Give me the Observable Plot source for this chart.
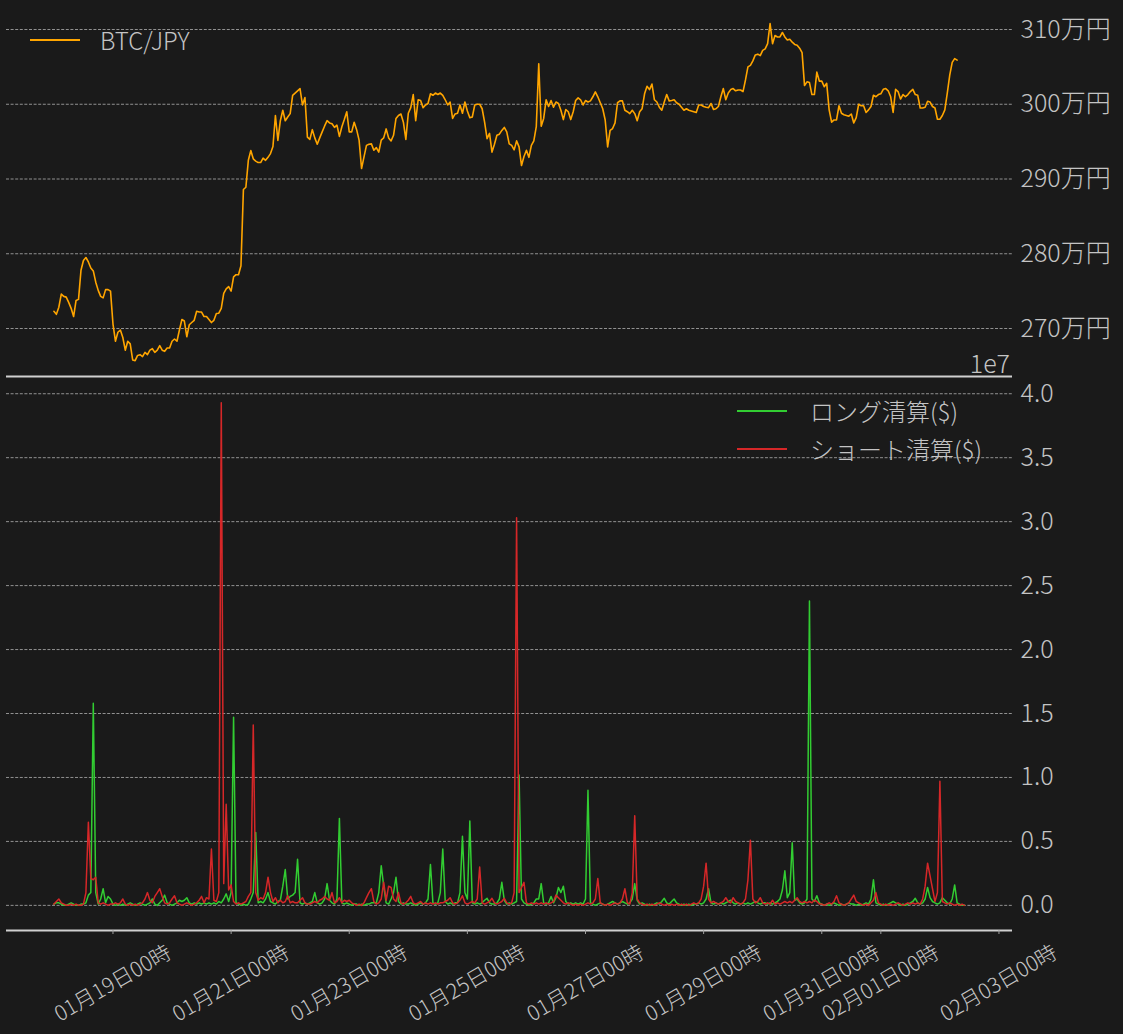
<!DOCTYPE html>
<html>
<head>
<meta charset="utf-8">
<script src="https://cdn.jsdelivr.net/npm/d3@7"></script>
<script src="https://cdn.jsdelivr.net/npm/@observablehq/plot@0.6"></script>
<style>
  html, body { margin: 0; padding: 0; background: #1a1a1a; }
  #wrap { position: relative; width: 1123px; height: 1034px; background: #1a1a1a; overflow: hidden;
          font-family: "Noto Sans CJK JP", "Noto Sans", sans-serif; font-weight: 300; color: #c4c4c4; }
  #top, #bottom { position: absolute; left: 0; }
  #top { top: 0; }
  #bottom { top: 377px; }
  svg text { font-weight: 300; }
  .sw { position: absolute; height: 2px; width: 50px; }
  .lt { position: absolute; font-size: 24px; line-height: 1; transform: translateY(-50%); white-space: nowrap; }
</style>
</head>
<body>
<div id="wrap">
  <div id="top"></div>
  <div id="bottom"></div>
  <div class="sw" style="left:30px; top:39px; background:#ffa500"></div>
  <div class="lt" style="left:100px; top:40px">BTC/JPY</div>
  <div class="sw" style="left:737px; top:410px; background:#32cd32"></div>
  <div class="lt" style="left:810px; top:411px">ロング清算($)</div>
  <div class="sw" style="left:737px; top:448px; background:#d62728"></div>
  <div class="lt" style="left:810px; top:449px">ショート清算($)</div>
  <div class="lt" style="right:113px; top:362px; font-size:25px">1e7</div>
</div>
<script>
// ---- data (hourly, starting 2023-01-18 00:00) ----
const startTime = Date.UTC(2023, 0, 18, 0);
const HOUR = 3600e3;

// BTC/JPY price, in 万円
const btcPrice = [
  272.3,271.9,272.85,274.6,274.3,274.2,273.5,272.7,271.6,273.75,
  273.9,277.8,279.1,279.5,278.9,278.1,277.7,276.2,275.1,274.3,
  274.1,275.2,275.2,275.0,270.6,268.3,269.5,269.8,268.8,267.1,
  268.3,267.95,265.8,265.7,266.4,266.5,266.25,266.8,266.5,267.1,
  267.3,266.8,267.1,267.7,267.1,266.95,267.4,267.4,268.3,268.6,
  268.3,269.8,271.2,271.0,268.9,270.5,270.8,271.1,272.3,272.2,
  272.2,271.6,271.6,271.2,270.8,271.1,272.0,272.05,272.7,274.7,
  275.3,275.6,275.0,276.9,277.2,277.2,278.4,288.6,288.9,292.5,
  293.8,292.7,292.4,292.2,292.2,292.8,292.5,292.9,293.4,294.35,
  298.5,295.15,297.8,
  299.2,297.8,298.3,298.75,301.2,301.5,301.8,302.1,299.9,300.9,
  295.6,295.3,296.6,295.5,294.65,295.5,296.3,297.1,297.8,297.5,
  297.4,296.9,297.2,295.7,297.0,297.95,299.0,296.3,296.3,297.6,
  296.6,295.2,291.4,292.95,294.5,294.65,294.7,293.85,294.2,293.6,
  295.2,295.5,296.7,295.5,295.1,295.85,298.1,298.5,298.7,297.6,
  295.3,298.8,299.55,301.3,297.8,300.6,300.5,299.55,299.9,300.1,
  301.4,301.2,301.5,301.3,301.5,301.2,300.6,299.9,300.3,298.1,
  298.7,298.8,299.9,298.8,300.3,299.1,298.2,298.3,299.9,300.0,
  300.0,299.4,297.6,295.4,296.1,293.6,294.65,295.85,296.0,296.5,
  296.9,296.3,294.7,
  294.5,293.9,295.1,294.3,291.8,293.0,293.85,292.9,294.5,295.1,
  297.0,305.4,297.05,298.1,300.6,299.7,300.5,299.6,300.3,300.1,
  299.2,297.95,299.3,299.0,297.95,299.0,300.5,300.85,300.6,299.9,
  300.5,300.3,300.45,301.0,301.65,301.0,300.2,299.4,297.9,294.3,
  296.5,296.75,297.5,300.2,300.45,300.45,299.2,299.0,298.75,299.2,
  298.75,297.8,299.0,299.4,301.4,302.4,301.96,302.7,300.6,300.3,
  299.6,299.2,300.3,301.3,300.45,300.5,300.6,300.2,300.0,299.6,
  299.2,299.4,299.2,299.1,299.0,298.9,299.9,299.9,299.7,299.6,
  299.55,300.1,299.3,299.4,299.7,301.0,302.1,300.6,301.5,301.96,
  302.1,301.8,
  301.9,301.9,301.7,303.25,305.0,305.2,305.8,306.6,306.7,306.5,
  307.2,307.4,308.1,310.8,308.1,309.2,309.0,309.0,309.6,309.0,
  308.6,308.7,308.3,308.0,307.9,307.5,306.9,302.5,303.0,302.9,
  301.3,301.3,304.3,303.1,303.1,302.35,302.8,299.25,297.6,297.9,
  297.9,299.8,298.8,298.6,298.5,298.4,298.7,297.5,298.2,300.0,
  299.8,299.8,298.9,299.25,299.7,301.2,301.0,301.3,301.4,302.0,
  302.1,301.8,301.0,298.9,302.0,301.7,300.7,301.3,301.0,301.3,
  301.7,302.0,301.3,301.2,299.5,299.5,299.6,300.4,300.3,299.7,
  299.5,298.0,298.0,298.5,299.25,301.5,303.9,305.6,306.1,305.9
];

// Long liquidations, in units of 1e7 $
const longLiq1e7 = [
  0.01,0.02,0.02,0.01,0,0,0.01,0.02,0.01,0,0,0.01,0.01,0.02,0.08,0.1,1.58,0.1,0.01,0.05,0.13,0.02,0.07,0.05,
  0.01,0,0.01,0,0.01,0,0.01,0.02,0.01,0,0.01,0.02,0.01,0,0.01,0.02,0.05,0.01,0,0.02,0.04,0.08,0.02,0.01,
  0,0.01,0.02,0.04,0.03,0.04,0.06,0.02,0.01,0.02,0.01,0.02,0.01,0.02,0.01,0.02,0.01,0.02,0.01,0.03,0.02,0.05,0.09,0.03,
  0.1,1.47,0.02,0.01,0,0.01,0,0.01,0.05,0.1,0.57,0.02,0.03,0.02,0.05,0.1,0.03,0.02,0.01,0.03,0.04,0.15,0.28,0.05,
  0.07,0.08,0.1,0.36,0.02,0.01,0.02,0.01,0.02,0.03,0.1,0.02,0.01,0.02,0.05,0.17,0.04,0.02,0.01,0.05,0.68,0.02,0.01,0.02,
  0.01,0,0.01,0.01,0,0.01,0,0.01,0.01,0.02,0.02,0.02,0.1,0.31,0.15,0.02,0.01,0.05,0.1,0.22,0.03,0.01,0.02,0.01,
  0.01,0.02,0.01,0,0.01,0.02,0.01,0.02,0.05,0.32,0.02,0.01,0.02,0.1,0.44,0.03,0.01,0.02,0.01,0.02,0.02,0.1,0.54,0.1,
  0.05,0.66,0.02,0.01,0.02,0.01,0.02,0.04,0.055,0.02,0.01,0.01,0.02,0.05,0.18,0.04,0.01,0.02,0.01,0.02,0.03,1.02,0.05,0.02,
  0.01,0,0.01,0.02,0.05,0.05,0.17,0.02,0.01,0.02,0.07,0.02,0.06,0.14,0.1,0.15,0.03,0.01,0.02,0.01,0.02,0.01,0.02,0.01,
  0.05,0.9,0.02,0.01,0,0.01,0.02,0.01,0,0.01,0.02,0.03,0.02,0.01,0.02,0.03,0.02,0.01,0.02,0.05,0.17,0.04,0.01,0.02,
  0.01,0,0.01,0,0.01,0.02,0.01,0.03,0.055,0.02,0.01,0.03,0.05,0.02,0.01,0,0.01,0,0.01,0,0.01,0.01,0.02,0.01,
  0.02,0.05,0.13,0.02,0.01,0.02,0.01,0.02,0.01,0.02,0.03,0.04,0.02,0.01,0.02,0.01,0.02,0.01,0.02,0.01,0.02,0.03,0.02,0.01,
  0.02,0.02,0.01,0.02,0.01,0.02,0.03,0.05,0.12,0.27,0.06,0.1,0.49,0.04,0.05,0.02,0.01,0.02,0.05,2.38,0.05,0.03,0.075,0.02,
  0.01,0,0.01,0,0.01,0.02,0.01,0,0.01,0,0.01,0.02,0.01,0.01,0,0.01,0,0.01,0.02,0.01,0.05,0.2,0.02,0.01,
  0,0.01,0,0.01,0.02,0.03,0.02,0.01,0,0.01,0,0.01,0.02,0.03,0.055,0.02,0.01,0.02,0.05,0.14,0.06,0.03,0.02,0.01,
  0.02,0.06,0.04,0.02,0.01,0.05,0.16,0.02,0.01,0,0
];

// Short liquidations, in units of 1e7 $
const shortLiq1e7 = [
  0.01,0.03,0.05,0.02,0.01,0,0,0.01,0,0.01,0,0,0.01,0.1,0.65,0.21,0.2,0.22,0.02,0.01,0.02,0.01,0,0.01,
  0.01,0.02,0.01,0.02,0.05,0.01,0,0.01,0,0.01,0,0.01,0.02,0.05,0.1,0.04,0.02,0.07,0.1,0.13,0.07,0.02,0.01,0.02,
  0.05,0.075,0.02,0.01,0,0.01,0.02,0.01,0,0.01,0.02,0.04,0.07,0.02,0.06,0.05,0.44,0.04,0.03,0.1,3.93,0.17,0.79,0.12,
  0.16,0.03,0.01,0.02,0.01,0.02,0.03,0.07,0.1,1.41,0.1,0.04,0.06,0.05,0.1,0.22,0.1,0.03,0.06,0.02,0.04,0.02,0.03,0.075,
  0.02,0.03,0.02,0.02,0.04,0.06,0.02,0.01,0.01,0.02,0.03,0.02,0.04,0.05,0.07,0.05,0.04,0.1,0.02,0.03,0.06,0.02,0.04,0.03,
  0.04,0.02,0.01,0,0.01,0,0.02,0.06,0.1,0.13,0.03,0.01,0.02,0.05,0.18,0.04,0.15,0.14,0.05,0.03,0.1,0.02,0.01,0.02,
  0.04,0.07,0.02,0.01,0.02,0.03,0.01,0.02,0.01,0.02,0.01,0.02,0.01,0.02,0.02,0.03,0.04,0.06,0.02,0.01,0.02,0.04,0.075,0.02,
  0.01,0.02,0.03,0.02,0.05,0.3,0.02,0.01,0.02,0.03,0.055,0.02,0.01,0.02,0.03,0.055,0.02,0.01,0.02,0.1,3.03,0.1,0.14,0.18,
  0.02,0.01,0.02,0.01,0.02,0.01,0.02,0.01,0.02,0.01,0.02,0.03,0.08,0.06,0.04,0.02,0.01,0.02,0.01,0,0.01,0,0.01,0,
  0.01,0.02,0.01,0.02,0.05,0.21,0.02,0.01,0,0.01,0,0.01,0.02,0.01,0.02,0.05,0.13,0.02,0.01,0.1,0.7,0.05,0.02,0.01,
  0,0.01,0,0.01,0,0.01,0.02,0.01,0,0.01,0,0.01,0,0.01,0,0.01,0,0.01,0,0.01,0.02,0.01,0.02,0.05,
  0.15,0.33,0.05,0.02,0.03,0.02,0.01,0.02,0.03,0.06,0.03,0.02,0.06,0.03,0.02,0.01,0.02,0.05,0.2,0.51,0.05,0.02,0.03,0.06,
  0.02,0.01,0.02,0.01,0.04,0.01,0.02,0.01,0.02,0.03,0.02,0.03,0.02,0.04,0.06,0.03,0.02,0.03,0.02,0.03,0.02,0.04,0.03,0.01,
  0.01,0,0.01,0.02,0.01,0.03,0.075,0.02,0.01,0,0.01,0.02,0.05,0.08,0.03,0.02,0.01,0,0.01,0,0.02,0.04,0.1,0.02,
  0.01,0,0.01,0,0.01,0,0.01,0.02,0.01,0,0.01,0.02,0.01,0.02,0.01,0.02,0.01,0.05,0.15,0.33,0.23,0.13,0.03,0.1,
  0.97,0.03,0.02,0.01,0.02,0.01,0,0.01,0,0.01,0
];

const priceTicks = [270, 280, 290, 300, 310];
const liqTicks = [0, 0.5, 1, 1.5, 2, 2.5, 3, 3.5, 4];
const xTickDates = ["2023-01-19","2023-01-21","2023-01-23","2023-01-25","2023-01-27",
                    "2023-01-29","2023-01-31","2023-02-01","2023-02-03"].map(s => new Date(s + "T00:00:00Z"));

// ---- build tables ----
const priceData = btcPrice.map((p, i) => ({t: new Date(startTime + i * HOUR), p}));
const shortData = shortLiq1e7.map((v, i) => ({t: new Date(startTime + i * HOUR), v}));
const longData = longLiq1e7.map((v, i) => ({t: new Date(startTime + i * HOUR), v}));

// ---- shared layout ----
const xDomain = [new Date("2023-01-17T04:44:00Z"), new Date("2023-02-03T05:30:00Z")];
const W = 1123, ML = 6, MR = 111;
const textColor = "#c4c4c4";
const gridColor = "#b0b0b0";
const spineColor = "#d0d0d0";
const fontFamily = "'Noto Sans CJK JP', 'Noto Sans', sans-serif";
const svgStyle = {background: "transparent", color: textColor, fontFamily, overflow: "visible"};

const priceDomain = [263.58, 312.81];
const topPlot = Plot.plot({
  width: W, height: 377,
  marginLeft: ML, marginRight: MR, marginTop: 8, marginBottom: 1,
  style: svgStyle,
  x: {type: "utc", domain: xDomain, axis: null},
  y: {domain: priceDomain, axis: null},
  marks: [
    Plot.gridY(priceTicks, {stroke: gridColor, strokeOpacity: 1, strokeWidth: 0.8, strokeDasharray: "3,1.6"}),
    Plot.axisY(priceTicks, {anchor: "right", tickSize: 0, tickPadding: 8, fontSize: 25,
      tickFormat: d => d + "万円", label: null, fill: textColor}),
    Plot.line(priceData, {x: "t", y: "p", stroke: "#ffa500", strokeWidth: 1.6}),
    Plot.ruleY([priceDomain[0]], {stroke: spineColor, strokeWidth: 2})
  ]
});
document.getElementById("top").appendChild(topPlot);

const liqDomain = [-0.1965, 4.127];
const fmtX = d3.utcFormat("%m月%d日%H時");
const bottomPlot = Plot.plot({
  width: W, height: 657,
  marginLeft: ML, marginRight: MR, marginTop: 0, marginBottom: 104,
  style: svgStyle,
  x: {type: "utc", domain: xDomain, axis: null},
  y: {domain: liqDomain, axis: null},
  marks: [
    Plot.gridY(liqTicks, {stroke: gridColor, strokeOpacity: 1, strokeWidth: 0.8, strokeDasharray: "3,1.6"}),
    Plot.axisY(liqTicks, {anchor: "right", tickSize: 0, tickPadding: 8, fontSize: 25,
      tickFormat: d3.format(".1f"), label: null, fill: textColor}),
    Plot.line(longData, {x: "t", y: "v", stroke: "#32cd32", strokeWidth: 1.5}),
    Plot.line(shortData, {x: "t", y: "v", stroke: "#d62728", strokeWidth: 1.5}),
    Plot.ruleY([liqDomain[0]], {stroke: spineColor, strokeWidth: 2}),
    Plot.axisX(xTickDates, {anchor: "bottom", tickSize: 4, tickFormat: () => "", label: null, stroke: "#a0a0a0"}),
    Plot.text(xTickDates, {x: d => d, text: d => fmtX(d), frameAnchor: "bottom", rotate: -30,
      textAnchor: "middle", lineAnchor: "middle", dy: 53, fontSize: 21, fill: textColor})
  ]
});
document.getElementById("bottom").appendChild(bottomPlot);
</script>
</body>
</html>
